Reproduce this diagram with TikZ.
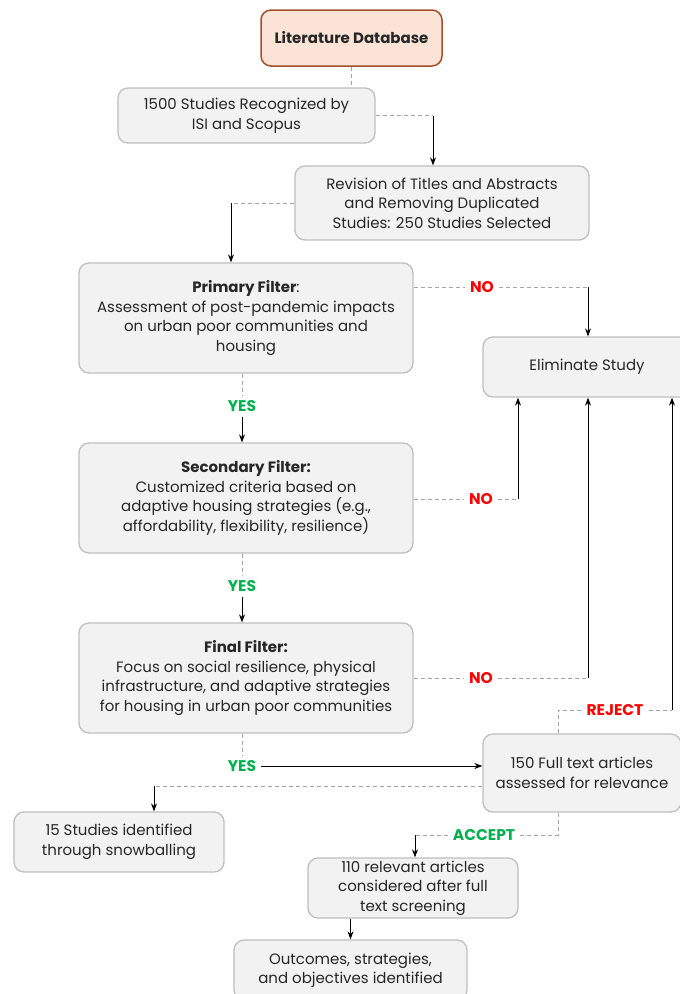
\documentclass[tikz,border=0pt]{standalone}
\usepackage{fontspec}
\setmainfont{Poppins}
\usetikzlibrary{arrows.meta}

\definecolor{boxfill}{HTML}{F2F2F2}
\definecolor{boxline}{HTML}{BFBFBF}
\definecolor{dbfill}{HTML}{FBE3D6}
\definecolor{dbline}{HTML}{A0502A}
\definecolor{linkgray}{HTML}{A6A6A6}
\definecolor{yesgreen}{HTML}{00B050}
\definecolor{nored}{HTML}{FF0000}

\tikzset{
  stagebox/.style={draw=boxline,fill=boxfill,line width=1.3pt,rounded corners=10pt,
    align=center,inner sep=2pt,text=black!85,font=\fontsize{15}{19.5}\selectfont},
  sourcebox/.style={stagebox,draw=dbline,fill=dbfill,line width=1.5pt,font=\fontsize{15}{19.5}\selectfont\bfseries},
  yeslbl/.style={fill=white,text=yesgreen,font=\fontsize{15.5}{17}\selectfont\bfseries,inner sep=5pt},
  nolbl/.style={yeslbl,text=nored},
  dashlink/.style={draw=linkgray,line width=1pt,dash pattern=on 4pt off 3pt},
  arrowlink/.style={draw=black,line width=1pt,-{Stealth[length=8pt,width=6pt]}}
}

\begin{document}
\begin{tikzpicture}[x=1pt,y=-1pt]
\useasboundingbox[fill=white] (0,0) rectangle (680,994);
% boxes
\node[sourcebox,minimum width=181pt,minimum height=56pt] (lit) at (351.5,38) {Literature Database};
\node[stagebox,minimum width=257pt,minimum height=55pt] (s1500) at (246.5,115.5) {1500 Studies Recognized by\\ISI and Scopus};
\node[stagebox,minimum width=294pt,minimum height=74pt] (rev) at (442,203) {Revision of Titles and Abstracts\\and Removing Duplicated\\Studies: 250 Studies Selected};
\node[stagebox,minimum width=334pt,minimum height=110pt] (prim) at (246,318) {\textbf{Primary Filter}:\\Assessment of post-pandemic impacts\\on urban poor communities and\\housing};
\node[stagebox,minimum width=208pt,minimum height=60pt] (elim) at (587,367) {Eliminate Study};
\node[stagebox,minimum width=334pt,minimum height=110pt] (sec) at (246,498) {\textbf{Secondary Filter:}\\Customized criteria based on\\adaptive housing strategies (e.g.,\\affordability, flexibility, resilience)};
\node[stagebox,minimum width=334pt,minimum height=110pt] (fin) at (246,678) {\textbf{Final Filter:}\\Focus on social resilience, physical\\infrastructure, and adaptive strategies\\for housing in urban poor communities};
\node[stagebox,minimum width=198pt,minimum height=78pt] (full) at (582,773) {150 Full text articles\\assessed for relevance};
\node[stagebox,minimum width=210pt,minimum height=60pt] (snow) at (119,842) {15 Studies identified\\through snowballing};
\node[stagebox,minimum width=210pt,minimum height=60pt] (rel) at (413,888) {110 relevant articles\\considered after full\\text screening};
\node[stagebox,minimum width=233pt,minimum height=60pt] (outc) at (350.5,970) {Outcomes, strategies,\\and objectives identified};

% decision labels
\node[nolbl] (no1) at (482,287) {NO};
\node[yeslbl] (yes1) at (242,406) {YES};
\node[nolbl] (no2) at (481,499) {NO};
\node[yeslbl] (yes2) at (242,586) {YES};
\node[nolbl] (no3) at (481,678) {NO};
\node[yeslbl] (yes3) at (242,766) {YES};
\node[nolbl] (rej) at (615,710) {REJECT};
\node[yeslbl] (acc) at (484,835) {ACCEPT};

% bend points
\coordinate (k2) at (433,115.5);
\coordinate (k3) at (231,203);
\coordinate (k4) at (588,287);
\coordinate (k6) at (518,499);
\coordinate (k8) at (588,678);
\coordinate (k10a) at (558,710);
\coordinate (k10b) at (672,710);
\coordinate (k11) at (154,786);
\coordinate (k12a) at (558,835);
\coordinate (k12b) at (415,835);

% connectors
\draw[dashlink] (lit.south) -- (s1500.north -| lit.south);
\draw[dashlink] (s1500.east) -- (k2);
\draw[arrowlink] (k2) -- (rev.north -| k2);
\draw[dashlink] (rev.west) -- (k3);
\draw[arrowlink] (k3) -- (prim.north -| k3);
\draw[dashlink] (prim.east |- no1) -- (no1.west);
\draw[dashlink] (no1.east) -- (k4);
\draw[arrowlink] (k4) -- (elim.north -| k4);
\draw[dashlink] (prim.south -| yes1) -- (yes1.north);
\draw[arrowlink] (yes1.south) -- (sec.north -| yes1);
\draw[dashlink] (sec.east |- no2) -- (no2.west);
\draw[dashlink] (no2.east) -- (k6);
\draw[arrowlink] (k6) -- (elim.south -| k6);
\draw[dashlink] (sec.south -| yes2) -- (yes2.north);
\draw[arrowlink] (yes2.south) -- (fin.north -| yes2);
\draw[dashlink] (fin.east |- no3) -- (no3.west);
\draw[dashlink] (no3.east) -- (k8);
\draw[arrowlink] (k8) -- (elim.south -| k8);
\draw[dashlink] (fin.south -| yes3) -- (yes3.north);
\draw[arrowlink] (yes3.east) -- (full.west |- yes3);
\draw[dashlink] (full.north -| k10a) -- (k10a) -- (rej.west);
\draw[dashlink] (rej.east) -- (k10b);
\draw[arrowlink] (k10b) -- (elim.south -| k10b);
\draw[dashlink] (full.west |- k11) -- (k11);
\draw[arrowlink] (k11) -- (snow.north -| k11);
\draw[dashlink] (full.south -| k12a) -- (k12a) -- (acc.east);
\draw[dashlink] (acc.west) -- (k12b);
\draw[arrowlink] (k12b) -- (rel.north -| k12b);
\draw[arrowlink] (outc.north |- rel.south) -- (outc.north);
\end{tikzpicture}
\end{document}
